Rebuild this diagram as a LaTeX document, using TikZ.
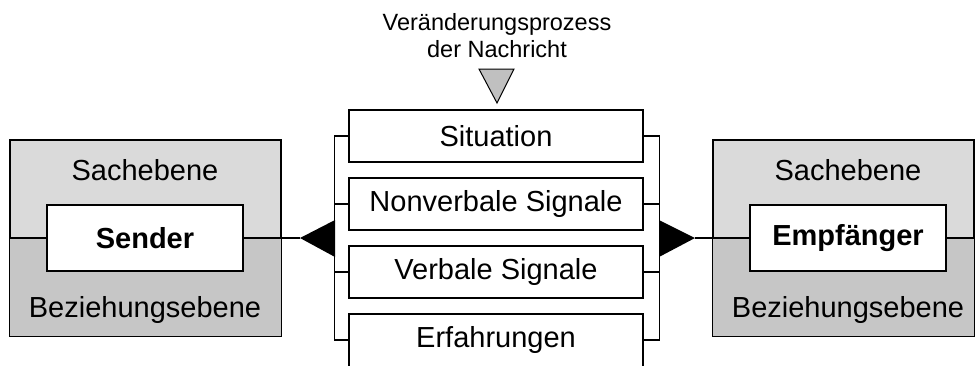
\documentclass[tikz,border=0pt]{standalone}
\usepackage{fontspec}
\setmainfont{Liberation Sans}
\definecolor{upperlevel}{RGB}{218,218,218}
\definecolor{lowerlevel}{RGB}{198,198,198}
\definecolor{marker}{RGB}{192,192,192}
\begin{document}
\begin{tikzpicture}[x=1pt,y=-1pt,line width=1.2pt,
  lbl/.style={inner sep=0pt,font=\fontsize{29}{32}\selectfont},
  person/.style={draw,fill=white,minimum width=196pt,minimum height=66pt,
    inner sep=0pt,font=\fontsize{29}{32}\selectfont\bfseries},
  factor/.style={draw,fill=white,minimum width=294pt,minimum height=52pt,
    inner sep=0pt,font=\fontsize{29}{32}\selectfont},
  panel/.style={draw,fill=upperlevel,minimum height=196pt,inner sep=0pt}]
\useasboundingbox (0,0) rectangle (975,365);

% --- sender panel ---
\node[panel,minimum width=271pt] (lp) at (145.5,238) {};
\fill[lowerlevel] (lp.west) rectangle (lp.south east);
\draw (lp.west) -- (lp.east);
\draw (lp.north west) rectangle (lp.south east);
\node[lbl] (lsach) at (145,170) {Sachebene};
\node[lbl] (lbez) at (145,310) {Beziehungsebene};
\node[person] (sender) at (145,238) {Sender};

% --- receiver panel ---
\node[panel,minimum width=261pt] (rp) at (843.5,238) {};
\fill[lowerlevel] (rp.west) rectangle (rp.south east);
\draw (rp.west) -- (rp.east);
\draw (rp.north west) rectangle (rp.south east);
\node[lbl] (rsach) at (848,170) {Sachebene};
\node[lbl] (rbez) at (848,310) {Beziehungsebene};
\node[person] (recv) at (848,238) {Empfänger};

% --- influencing factors ---
\node[factor] (sit) at (496,136) {Situation};
\node[factor] (nv)  at (496,204) {Nonverbale Signale};
\node[factor] (vs)  at (496,272) {Verbale Signale};
% the last box runs past the lower edge of the picture
\draw[fill=white] (349,314) rectangle (643,380);
\node[factor,draw=none,fill=none] (erf) at (496,340) {Erfahrungen};

% brackets
\draw (sit.west) -- ++(-14,0) |- (erf.west);
\draw (nv.west) -- ++(-14,0);
\draw (vs.west) -- ++(-14,0);
\draw (sit.east) -- ++(16,0) |- (erf.east);
\draw (nv.east) -- ++(16,0);
\draw (vs.east) -- ++(16,0);

% arrowheads joining the bracket to sender and receiver
\coordinate (ltip) at (300,238);
\coordinate (rtip) at (695,238);
\fill (ltip) -- (335,220) -- (335,257) -- cycle;
\fill (rtip) -- (659,220) -- (659,257) -- cycle;
\draw (sender.east) -- (ltip);
\draw (rtip) -- (recv.west);

% heading with marker
\node[inner sep=0pt,align=center,font=\fontsize{23.5}{27}\selectfont] (head) at (497,36)
  {Veränderungsprozess\\der Nachricht};
\draw[fill=marker,line width=1pt] (479,69) -- (514,69) -- (497,103) -- cycle;
\end{tikzpicture}
\end{document}
